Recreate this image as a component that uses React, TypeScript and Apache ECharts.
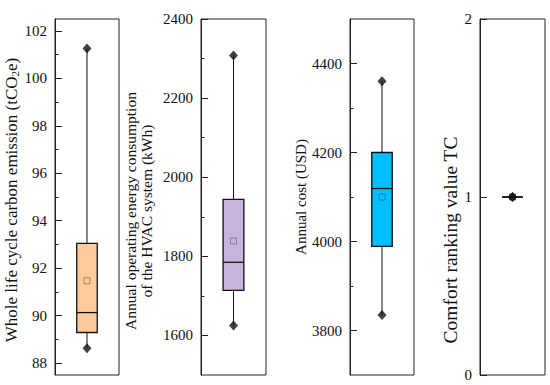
import React, { useEffect, useRef } from 'react';
import * as echarts from 'echarts';

// ---- data ----
const categories = ['Scheme'];

// [min, Q1, median, Q3, max]
const carbonStats = [88.63, 89.29, 90.13, 93.05, 101.26];
const carbonMean = 91.47;
const energyStats = [1625, 1714, 1785, 1944, 2308];
const energyMean = 1839;
const costStats = [3835, 3989, 4119, 4200, 4360];
const costMean = 4100;
const comfortStats = [1, 1, 1, 1, 1];
const comfortMean = 1;

// axis ranges
const carbonRange = [87.5, 102.5];
const energyRange = [1500, 2400];
const costRange = [3700, 4500];
const comfortRange = [0, 2];

// tick values
const carbonTicks = [88, 90, 92, 94, 96, 98, 100, 102];
const carbonMinorTicks = [89, 91, 93, 95, 97, 99, 101];
const energyTicks = [1600, 1800, 2000, 2200, 2400];
const energyMinorTicks = [1700, 1900, 2100, 2300];
const costTicks = [3800, 4000, 4200, 4400];
const costMinorTicks = [3900, 4100, 4300];
const comfortTicks = [0, 1, 2];
const comfortMinorTicks: number[] = [];

const FONT = "'Liberation Serif', 'Times New Roman', serif";

const panels = [
  {
    stats: carbonStats, mean: carbonMean, range: carbonRange, ticks: carbonTicks, minor: carbonMinorTicks,
    name: '{n|Whole life cycle carbon emission (tCO}{s|2}{n|e)}', nameSize: 17,
    fill: '#FFCC99', meanStroke: '#8E6A45',
    grid: { left: 55, width: 64 }, nameGap: 32, namePad: [0, 6, 0, 0],
  },
  {
    stats: energyStats, mean: energyMean, range: energyRange, ticks: energyTicks, minor: energyMinorTicks,
    name: 'Annual operating energy consumption\nof the HVAC system (kWh)', nameSize: 15.5,
    fill: '#C9B3DA', meanStroke: '#7D6E89',
    grid: { left: 201, width: 65 }, nameGap: 47, namePad: [0, 28, 0, 0],
  },
  {
    stats: costStats, mean: costMean, range: costRange, ticks: costTicks, minor: costMinorTicks,
    name: 'Annual cost (USD)', nameSize: 15,
    fill: '#00BFFF', meanStroke: '#00719A',
    grid: { left: 350, width: 64 }, nameGap: 35, namePad: [0, 0, 0, 0],
  },
  {
    stats: comfortStats, mean: comfortMean, range: comfortRange, ticks: comfortTicks, minor: comfortMinorTicks,
    name: 'Comfort ranking value TC', nameSize: 19.5,
    fill: '#FFFFFF', meanStroke: '#333333',
    grid: { left: 480, width: 65 }, nameGap: 19, namePad: [0, 86, 0, 0],
  },
];

function buildOption() {
  const grid: any[] = [];
  const xAxis: any[] = [];
  const yAxis: any[] = [];
  const series: any[] = [];

  panels.forEach((p, i) => {
    grid.push({
      left: p.grid.left, width: p.grid.width, top: 19, height: 356,
      show: true, borderColor: '#222', borderWidth: 1, backgroundColor: 'transparent',
    });
    xAxis.push({
      type: 'category', gridIndex: i, data: categories,
      axisLine: { show: false }, axisTick: { show: false }, axisLabel: { show: false },
      splitLine: { show: false },
    });
    yAxis.push({
      type: 'value', gridIndex: i, position: 'left',
      min: p.range[0], max: p.range[1],
      name: p.name, nameLocation: 'middle', nameRotate: 90, nameGap: p.nameGap,
      nameTextStyle: {
        fontFamily: FONT, fontSize: p.nameSize, color: '#111', lineHeight: p.nameSize, padding: p.namePad,
        rich: {
          n: { fontFamily: FONT, fontSize: p.nameSize, color: '#111', lineHeight: 19 },
          s: { fontFamily: FONT, fontSize: 11, color: '#111', lineHeight: 19, verticalAlign: 'bottom', padding: [6, 0, 0, 0] },
        },
      },
      axisLine: { show: true, lineStyle: { color: '#222', width: 1 } },
      axisTick: { show: true, inside: true, length: 7, customValues: p.ticks, lineStyle: { color: '#222', width: 1 } },
      axisLabel: {
        show: true, customValues: p.ticks, margin: 8, fontFamily: FONT, fontSize: 15, color: '#111',
        formatter: (v: number) => String(v),
      },
      splitLine: { show: false },
    });
    yAxis.push({
      type: 'value', gridIndex: i, position: 'left',
      min: p.range[0], max: p.range[1],
      axisLine: { show: false },
      axisTick: { show: p.minor.length > 0, inside: true, length: 3.5, customValues: p.minor.length ? p.minor : [p.range[0]], lineStyle: { color: '#222', width: 1 } },
      axisLabel: { show: false },
      splitLine: { show: false },
    });

    const fill = p.fill;
    series.push({
      type: 'custom', xAxisIndex: i, yAxisIndex: 2 * i,
      data: [[0, ...p.stats]],
      encode: { x: 0, y: [1, 2, 3, 4, 5] },
      renderItem: (params: any, api: any) => {
        const x = api.value(0);
        const pMin = api.coord([x, api.value(1)]);
        const pQ1 = api.coord([x, api.value(2)]);
        const pMed = api.coord([x, api.value(3)]);
        const pQ3 = api.coord([x, api.value(4)]);
        const pMax = api.coord([x, api.value(5)]);
        const bw = api.size([1, 0])[0] * 0.32;
        const cx = pMed[0];
        return {
          type: 'group',
          children: [
            { type: 'line', shape: { x1: cx, y1: pMax[1], x2: cx, y2: pQ3[1] }, style: { stroke: '#111', lineWidth: 1 } },
            { type: 'line', shape: { x1: cx, y1: pQ1[1], x2: cx, y2: pMin[1] }, style: { stroke: '#111', lineWidth: 1 } },
            { type: 'rect', shape: { x: cx - bw / 2, y: pQ3[1], width: bw, height: pQ1[1] - pQ3[1] }, style: { fill, stroke: '#111', lineWidth: 1.3 } },
            { type: 'line', shape: { x1: cx - bw / 2, y1: pMed[1], x2: cx + bw / 2, y2: pMed[1] }, style: { stroke: '#111', lineWidth: 1.3 } },
          ],
        };
      },
      z: 2,
    });
    series.push({
      type: 'scatter', xAxisIndex: i, yAxisIndex: 2 * i,
      data: [[0, p.mean]],
      symbol: 'rect', symbolSize: 6,
      itemStyle: { color: 'transparent', borderColor: p.meanStroke, borderWidth: 1 },
      z: 3,
    });
    series.push({
      type: 'scatter', xAxisIndex: i, yAxisIndex: 2 * i,
      data: [[0, p.stats[0]], [0, p.stats[4]]],
      symbol: 'diamond', symbolSize: [9, 10],
      itemStyle: { color: '#111' },
      z: 4,
    });
  });

  return { animation: false, grid, xAxis, yAxis, series };
}

export default function App() {
  const ref = useRef<HTMLDivElement>(null);
  useEffect(() => {
    if (!ref.current) return;
    const chart = echarts.init(ref.current, undefined, { renderer: 'svg' });
    chart.setOption(buildOption());
    return () => chart.dispose();
  }, []);
  return (
    <div
      ref={ref}
      style={{ position: 'absolute', left: 0, top: 0, width: 550, height: 385, background: '#fff' }}
    />
  );
}
